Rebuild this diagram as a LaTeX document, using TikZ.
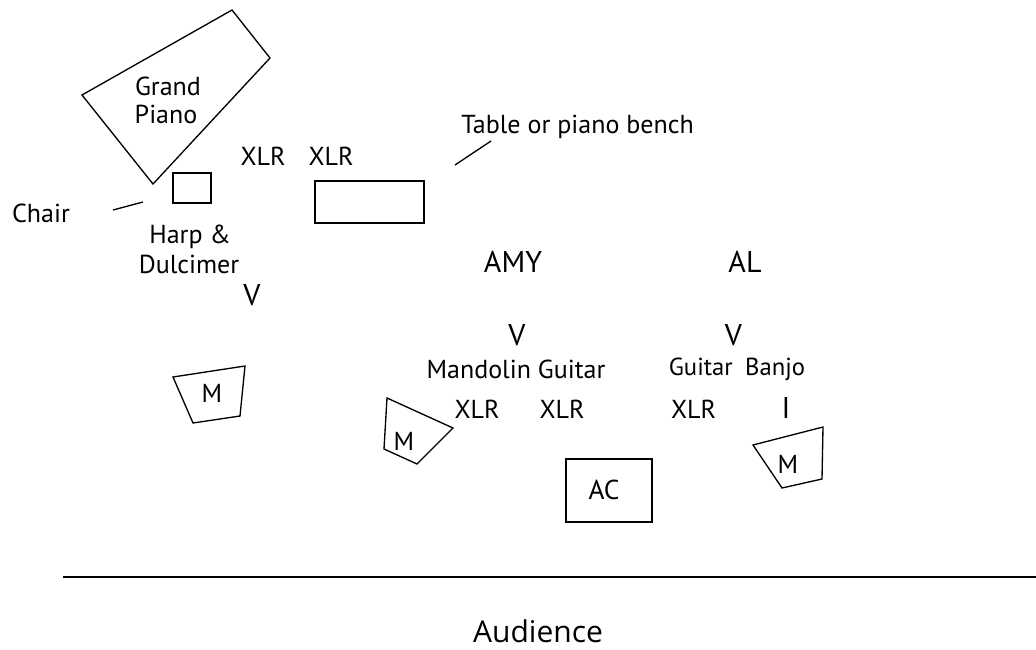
\documentclass[tikz,border=0pt]{standalone}
\usepackage{fontspec}
\setmainfont{PT Sans}
\newfontfamily\audfont{Open Sans}
\begin{document}
\begin{tikzpicture}[x=0.75pt,y=-0.75pt,
  lbl/.style={inner sep=0pt,anchor=base,font=\fontsize{19.5}{22}\selectfont},
  sml/.style={inner sep=0pt,anchor=base,font=\fontsize{18.5}{21}\selectfont},
  big/.style={inner sep=0pt,anchor=base,font=\fontsize{22.5}{26}\selectfont},
  shp/.style={draw,line width=1pt,line join=miter},
  lead/.style={draw,line width=1pt}]
\useasboundingbox (0,0) rectangle (1036,650);
% grand piano
\draw[shp] (82,95) -- (232,10) -- (270,58) -- (153,184) -- cycle;
\node[lbl] (grand) at (168,95) {Grand};
\node[lbl] (piano) at (166,123) {Piano};
% harp box
\draw[shp] (173,173) rectangle (211,203);
\node[lbl] (chair) at (41,222) {Chair};
\coordinate (ch1) at (113,210);
\coordinate (ch2) at (143,202);
\draw[lead] (ch1) -- (ch2);
\node[lbl] (harp) at (190,243) {Harp \&};
\node[lbl] (dulc) at (189,273) {Dulcimer};
\node[big] (v1) at (252,305) {V};
\node[lbl] (xlr1) at (263,165) {XLR};
\node[lbl] (xlr2) at (331,165) {XLR};
\node[shp,minimum width=109*0.75pt,minimum height=42*0.75pt,inner sep=0pt] (table) at (369.5,202) {};
\node[lbl,anchor=base west] (tlab) at (461,133) {Table or piano bench};
\coordinate (t1) at (455,165);
\coordinate (t2) at (491,141);
\draw[lead] (t1) -- (t2);
\node[big] (amy) at (513,272) {AMY};
\node[big] (al) at (745,272) {AL};
\node[big] (v2) at (517,345) {V};
\node[big] (v3) at (733.5,345) {V};
\node[lbl] (mg) at (516,378) {Mandolin Guitar};
\node[sml] (gb) at (737,375) {Guitar\enspace Banjo};
\node[lbl] (xlr3) at (477,418) {XLR};
\node[lbl] (xlr4) at (562,418) {XLR};
\node[lbl] (xlr5) at (693.5,418) {XLR};
\node[big] (inst) at (786,418) {I};
% monitors
\draw[shp] (173,377) -- (245,366) -- (240,416) -- (193,423) -- cycle;
\node[lbl] (m1) at (212,402) {M};
\draw[shp] (387,398) -- (453,428) -- (417,464) -- (384,449) -- cycle;
\node[lbl] (m2) at (404,450) {M};
\draw[shp] (753,445) -- (823,427) -- (822,479) -- (782,488) -- cycle;
\node[lbl] (m3) at (788,473) {M};
% amp
\draw[shp] (566,459) rectangle (652,522);
\node[inner sep=0pt,anchor=base,font=\fontsize{20.5}{24}\selectfont] (ac) at (604,499) {AC};
% stage edge
\coordinate (e1) at (63,577);
\coordinate (e2) at (1036,577);
\draw[lead] (e1) -- (e2);
\node[inner sep=0pt,anchor=base,text depth=0pt,font=\audfont\fontsize{22.5}{26}\selectfont] (aud) at (538,642) {Audience};
\end{tikzpicture}
\end{document}
